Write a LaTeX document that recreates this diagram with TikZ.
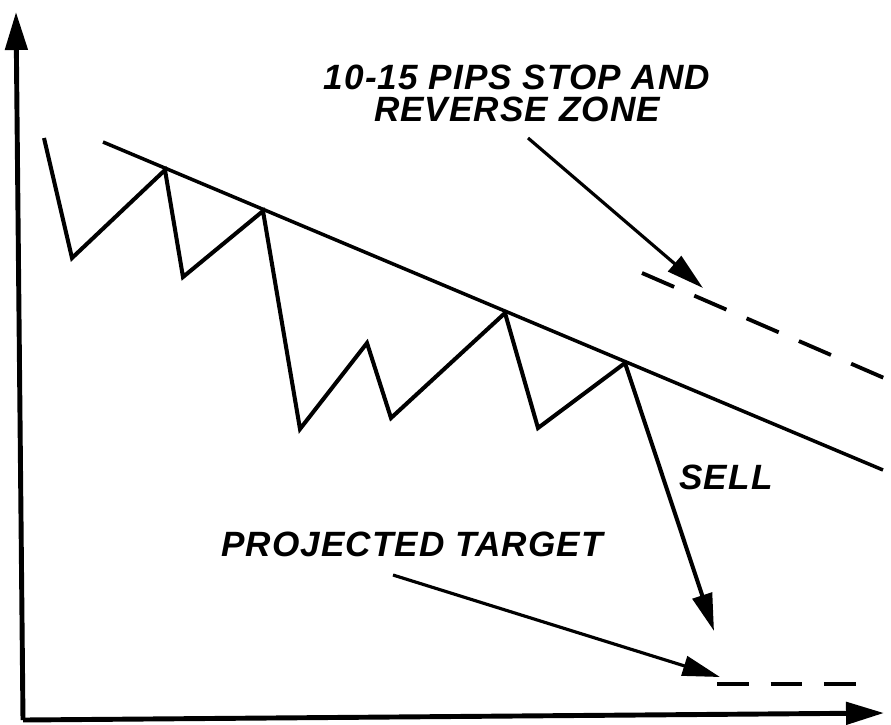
\documentclass[tikz,border=0pt]{standalone}
\usepackage{fontspec}
\setmainfont[LetterSpace=3]{Liberation Sans}
\usetikzlibrary{arrows.meta,positioning}

\begin{document}
\begin{tikzpicture}[x=0.02cm, y=-0.02cm,
  axis/.style={line width=2.8pt, -{Triangle[length=7.6mm,width=4.4mm]}},
  price/.style={line width=2.3pt, line join=miter},
  trend/.style={line width=2pt},
  pointer/.style={line width=1.8pt, -{Triangle[length=7.5mm,width=4mm]}},
  sellptr/.style={pointer, line width=2.3pt},
  zone/.style={line width=2.2pt, dash pattern=on 0.7cm off 0.44cm},
  note/.style={font=\fontsize{20}{18.1}\selectfont\bfseries\itshape, inner sep=0pt, align=center}
]
\useasboundingbox (0,0) rectangle (891,724);
% axes
\coordinate (origin) at (23,720);
\coordinate (ytop) at (16,12);
\coordinate (xend) at (884,713);
\draw[axis] (origin) -- (ytop);
\draw[axis] (origin) -- (xend);
% price swings
\coordinate (p0) at (44,138);
\coordinate (p1) at (72,258);
\coordinate (p2) at (165,170);
\coordinate (p3) at (183,277);
\coordinate (p4) at (263,211);
\coordinate (p5) at (300,429);
\coordinate (p6) at (367,343);
\coordinate (p7) at (391,418);
\coordinate (p8) at (505,313);
\coordinate (p9) at (538,428);
\coordinate (p10) at (625,363);
\coordinate (sellto) at (714,631);
\draw[price] (p0) -- (p1) -- (p2) -- (p3) -- (p4) -- (p5) -- (p6) -- (p7) -- (p8) -- (p9) -- (p10);
\draw[sellptr] (p10) -- (sellto);
% trend line
\coordinate (t0) at (103,142);
\coordinate (t1) at (883,470);
\draw[trend] (t0) -- (t1);
% stop and reverse zone
\node[note] (stoptxt) at (517,93) {10-15 PIPS STOP AND\\REVERSE ZONE};
\coordinate (stopfrom) at (528,138);
\coordinate (stopto) at (703,288);
\draw[pointer] (stopfrom) -- (stopto);
\coordinate (zone0) at (642,273);
\coordinate (zone1) at (891,381);
\draw[zone] (zone0) -- (zone1);
% sell and target
\node[note] (selltxt) at (726,477) {SELL};
\node[note] (tgttxt) at (412,544) {PROJECTED TARGET};
\coordinate (tgtfrom) at (393,575);
\coordinate (tgtto) at (720,677);
\draw[pointer] (tgtfrom) -- (tgtto);
\coordinate (tgt0) at (717,684);
\coordinate (tgt1) at (857,684);
\draw[zone, dash pattern=on 0.64cm off 0.43cm] (tgt0) -- (tgt1);
\end{tikzpicture}
\end{document}
